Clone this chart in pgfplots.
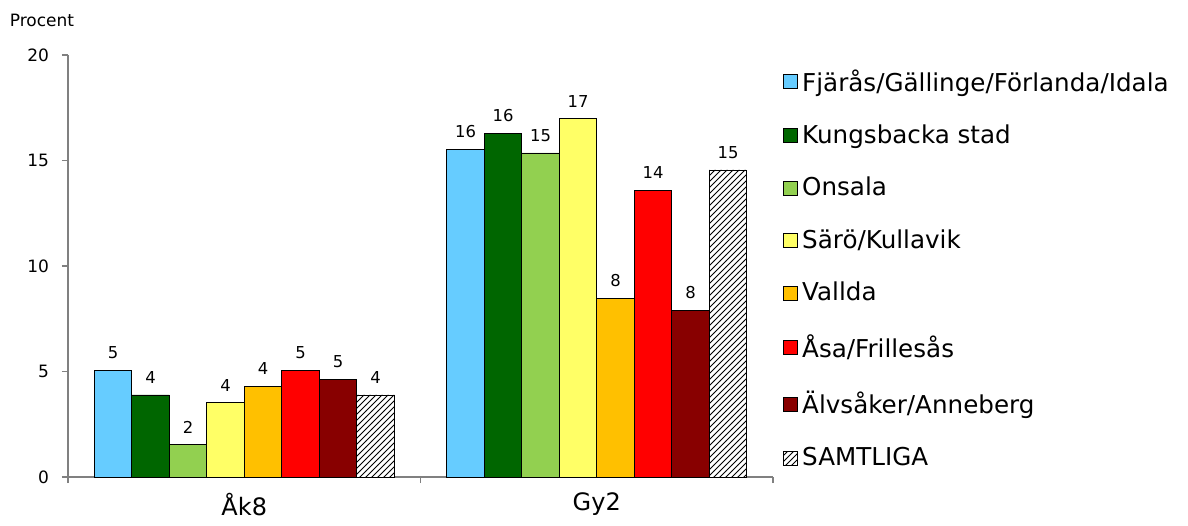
\documentclass[border=0pt]{standalone}
\usepackage{pgfplots}
\pgfplotsset{compat=1.18}
\usepackage{fontspec}
\setmainfont{DejaVu Sans}
\usetikzlibrary{patterns}
\definecolor{c1}{HTML}{66CCFF}
\definecolor{c2}{HTML}{006600}
\definecolor{c3}{HTML}{92D050}
\definecolor{c4}{HTML}{FFFF66}
\definecolor{c5}{HTML}{FFC000}
\definecolor{c6}{HTML}{FF0000}
\definecolor{c7}{HTML}{880000}
\definecolor{axgray}{HTML}{808080}
\begin{document}
\begin{tikzpicture}
\useasboundingbox (-34pt,-24pt) rectangle (560pt,238.5pt);
\begin{axis}[
  at={(0,0)}, anchor=south west,
  scale only axis, width=352.5pt, height=211pt,
  xmin=-0.5, xmax=1.5, ymin=0, ymax=20,
  ytick={0,5,10,15,20},
  xtick={-0.5,0.5,1.5}, xticklabels={},
  extra x ticks={0,1}, extra x tick labels={Åk8,Gy2},
  extra x tick style={major tick length=0pt, tick label style={font=\fontsize{12}{14}\selectfont, yshift=-4.5pt}},
  axis x line*=bottom, axis y line*=left,
  axis line style={axgray, line width=0.8pt},
  tick style={axgray, line width=0.8pt},
  tick align=outside, major tick length=3pt,
  /pgf/number format/assume math mode=true,
  yticklabel style={font=\fontsize{8.5}{10}\selectfont, xshift=-3pt},
  ybar=0pt, bar width=18.75pt,
  point meta=explicit symbolic,
  nodes near coords,
  every node near coord/.append style={font=\fontsize{8.2}{9}\selectfont, text=black, yshift=2pt},
  every axis plot/.append style={draw=black, line width=0.4pt},
  legend image code/.code={\draw[#1, draw=black, line width=0.4pt] (0pt,-3.5pt) rectangle (7pt,3.5pt);},
  legend style={draw=none, fill=none, at={(rel axis cs:1,1)}, anchor=north west, xshift=2pt, yshift=-3pt,
    font=\fontsize{12.3}{14}\selectfont, row sep=11.4pt, legend cell align=left},
  clip=false,
]
\addplot[fill=c1] coordinates {(0,5.07)[5] (1,15.54)[16]};
\addplot[fill=c2] coordinates {(0,3.89)[4] (1,16.30)[16]};
\addplot[fill=c3] coordinates {(0,1.56)[2] (1,15.36)[15]};
\addplot[fill=c4] coordinates {(0,3.55)[4] (1,17.01)[17]};
\addplot[fill=c5] coordinates {(0,4.31)[4] (1,8.48)[8]};
\addplot[fill=c6] coordinates {(0,5.07)[5] (1,13.60)[14]};
\addplot[fill=c7] coordinates {(0,4.64)[5] (1,7.91)[8]};
\addplot[fill=white, postaction={pattern=north east lines}] coordinates {(0,3.89)[4] (1,14.55)[15]};
\legend{Fjärås/Gällinge/Förlanda/Idala, Kungsbacka stad, Onsala, Särö/Kullavik, Vallda, Åsa/Frillesås, Älvsåker/Anneberg, SAMTLIGA}
\node[font=\fontsize{8.5}{10}\selectfont, anchor=center] at ([xshift=-13pt, yshift=17.5pt]rel axis cs:0,1) {Procent};
\end{axis}
\end{tikzpicture}
\end{document}
